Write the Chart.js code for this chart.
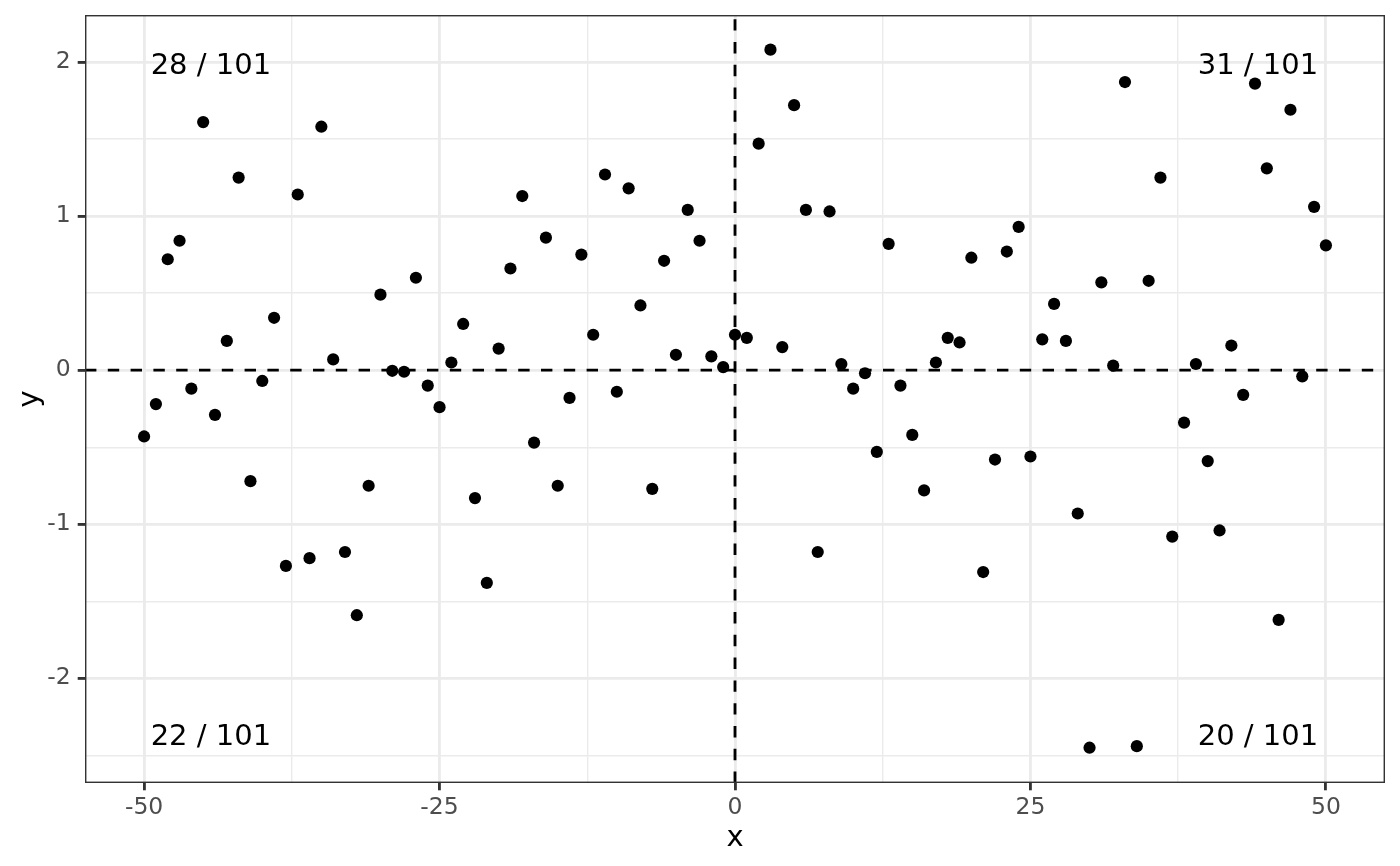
<!DOCTYPE html>
<html>
<head>
<meta charset="utf-8">
<script src="https://cdn.jsdelivr.net/npm/chart.js@4.4.1/dist/chart.umd.min.js"></script>
<style>
  html, body { margin: 0; padding: 0; background: #ffffff; }
  #wrap { width: 1400px; height: 866px; position: relative; }
</style>
</head>
<body>
<div id="wrap"><canvas id="c" width="1400" height="866"></canvas></div>
<script>
// ---- data ----
const xValues = [-50,-49,-48,-47,-46,-45,-44,-43,-42,-41,-40,-39,-38,-37,-36,-35,-34,-33,-32,-31,
  -30,-29,-28,-27,-26,-25,-24,-23,-22,-21,-20,-19,-18,-17,-16,-15,-14,-13,-12,-11,
  -10,-9,-8,-7,-6,-5,-4,-3,-2,-1,0,1,2,3,4,5,6,7,8,9,
  10,11,12,13,14,15,16,17,18,19,20,21,22,23,24,25,26,27,28,29,
  30,31,32,33,34,35,36,37,38,39,40,41,42,43,44,45,46,47,48,49,50];
const yValues = [-0.43,-0.22,0.72,0.84,-0.12,1.61,-0.29,0.19,1.25,-0.72,-0.07,0.34,-1.27,1.14,-1.22,1.58,0.07,-1.18,-1.59,-0.75,
  0.49,-0.004,-0.01,0.60,-0.10,-0.24,0.05,0.30,-0.83,-1.38,0.14,0.66,1.13,-0.47,0.86,-0.75,-0.18,0.75,0.23,1.27,
  -0.14,1.18,0.42,-0.77,0.71,0.10,1.04,0.84,0.09,0.02,0.23,0.21,1.47,2.08,0.15,1.72,1.04,-1.18,1.03,0.04,
  -0.12,-0.02,-0.53,0.82,-0.10,-0.42,-0.78,0.05,0.21,0.18,0.73,-1.31,-0.58,0.77,0.93,-0.56,0.20,0.43,0.19,-0.93,
  -2.45,0.57,0.03,1.87,-2.44,0.58,1.25,-1.08,-0.34,0.04,-0.59,-1.04,0.16,-0.16,1.86,1.31,-1.62,1.69,-0.04,1.06,0.81];
const quadrantLabels = ["28 / 101", "31 / 101", "22 / 101", "20 / 101"];
const xMajorTicks = [-50, -25, 0, 25, 50];
const xMinorTicks = [-37.5, -12.5, 12.5, 37.5];
const yMajorTicks = [-2, -1, 0, 1, 2];
const yMinorTicks = [-2.5, -1.5, -0.5, 0.5, 1.5];
const refX = 0;
const refY = 0;

// ---- layout / style config ----
const xLimits = [-55, 55];
const yLimits = [-2.679, 2.305];
const labelAnchors = [
  { x: -44.35, y: 1.99 },
  { x: 44.25, y: 1.99 },
  { x: -44.35, y: -2.364 },
  { x: 44.25, y: -2.364 }
];
const FONT = "'DejaVu Sans', sans-serif";
const MAJOR_W = 2.84, MINOR_W = 1.42;

const points = xValues.map((x, i) => ({ x: x, y: yValues[i] }));

function isMajor(list, v) { return list.some(m => Math.abs(m - v) < 1e-9); }

const overlay = {
  id: 'overlay',
  afterDraw(chart) {
    const ctx = chart.ctx;
    const a = chart.chartArea;
    const xs = chart.scales.x, ys = chart.scales.y;
    ctx.save();
    // panel border
    ctx.strokeStyle = '#333333';
    ctx.lineWidth = 1.42;
    ctx.strokeRect(a.left + 0.71, a.top + 0.71, a.right - a.left - 1.42, a.bottom - a.top - 1.42);
    // quadrant labels
    ctx.fillStyle = '#000000';
    ctx.font = '29px ' + FONT;
    ctx.textAlign = 'center';
    ctx.textBaseline = 'alphabetic';
    quadrantLabels.forEach((t, i) => {
      const px = xs.getPixelForValue(labelAnchors[i].x);
      const py = ys.getPixelForValue(labelAnchors[i].y) + 0.364 * 29;
      ctx.fillText(t, px, py);
    });
    ctx.restore();
  }
};

new Chart(document.getElementById('c'), {
  type: 'scatter',
  data: {
    datasets: [
      {
        label: 'points',
        data: points,
        backgroundColor: '#000000',
        borderWidth: 0,
        pointRadius: 6.1,
        pointHoverRadius: 6.1,
        order: 0
      },
      {
        label: 'hline',
        data: [{ x: xLimits[0], y: refY }, { x: xLimits[1], y: refY }],
        showLine: true,
        borderColor: '#000000',
        borderWidth: MAJOR_W,
        borderDash: [11.4, 11.4],
        pointRadius: 0,
        order: 1
      },
      {
        label: 'vline',
        data: [{ x: refX, y: yLimits[0] }, { x: refX, y: yLimits[1] }],
        showLine: true,
        borderColor: '#000000',
        borderWidth: MAJOR_W,
        borderDash: [11.4, 11.4],
        pointRadius: 0,
        order: 1
      }
    ]
  },
  options: {
    responsive: false,
    animation: false,
    devicePixelRatio: 1,
    layout: { padding: { top: 15, right: 15, left: 0, bottom: 0 } },
    plugins: { legend: { display: false }, tooltip: { enabled: false } },
    scales: {
      x: {
        type: 'linear',
        position: 'bottom',
        min: xLimits[0],
        max: xLimits[1],
        afterBuildTicks: (s) => {
          s.ticks = [...xMajorTicks, ...xMinorTicks].sort((a, b) => a - b).map(v => ({ value: v }));
        },
        afterFit: (s) => { s.height = 83; s.paddingLeft = 0; s.paddingRight = 0; },
        ticks: {
          autoSkip: false,
          maxRotation: 0,
          padding: 3,
          color: '#4D4D4D',
          font: { family: FONT, size: 23.5 },
          callback: (v) => isMajor(xMajorTicks, v) ? String(v) : ''
        },
        grid: {
          color: '#EBEBEB',
          lineWidth: (c) => isMajor(xMajorTicks, c.tick.value) ? MAJOR_W : MINOR_W,
          drawTicks: true,
          tickLength: 7.3,
          tickColor: (c) => isMajor(xMajorTicks, c.tick.value) ? '#333333' : 'rgba(0,0,0,0)',
          tickWidth: MAJOR_W
        },
        border: { display: false },
        title: {
          display: true,
          text: 'x',
          color: '#000000',
          font: { family: FONT, size: 29 },
          padding: { top: 0, bottom: 10 }
        }
      },
      y: {
        type: 'linear',
        position: 'left',
        min: yLimits[0],
        max: yLimits[1],
        afterBuildTicks: (s) => {
          s.ticks = [...yMajorTicks, ...yMinorTicks].sort((a, b) => a - b).map(v => ({ value: v }));
        },
        afterFit: (s) => { s.width = 85; s.paddingTop = 0; s.paddingBottom = 0; },
        ticks: {
          autoSkip: false,
          padding: 7,
          color: '#4D4D4D',
          font: { family: FONT, size: 23.5 },
          callback: (v) => isMajor(yMajorTicks, v) ? String(v) : ''
        },
        grid: {
          color: '#EBEBEB',
          lineWidth: (c) => isMajor(yMajorTicks, c.tick.value) ? MAJOR_W : MINOR_W,
          drawTicks: true,
          tickLength: 7.3,
          tickColor: (c) => isMajor(yMajorTicks, c.tick.value) ? '#333333' : 'rgba(0,0,0,0)',
          tickWidth: MAJOR_W
        },
        border: { display: false },
        title: {
          display: true,
          text: 'y',
          color: '#000000',
          font: { family: FONT, size: 29 },
          padding: { top: 13, bottom: 0 }
        }
      }
    }
  },
  plugins: [overlay]
});
</script>
</body>
</html>
